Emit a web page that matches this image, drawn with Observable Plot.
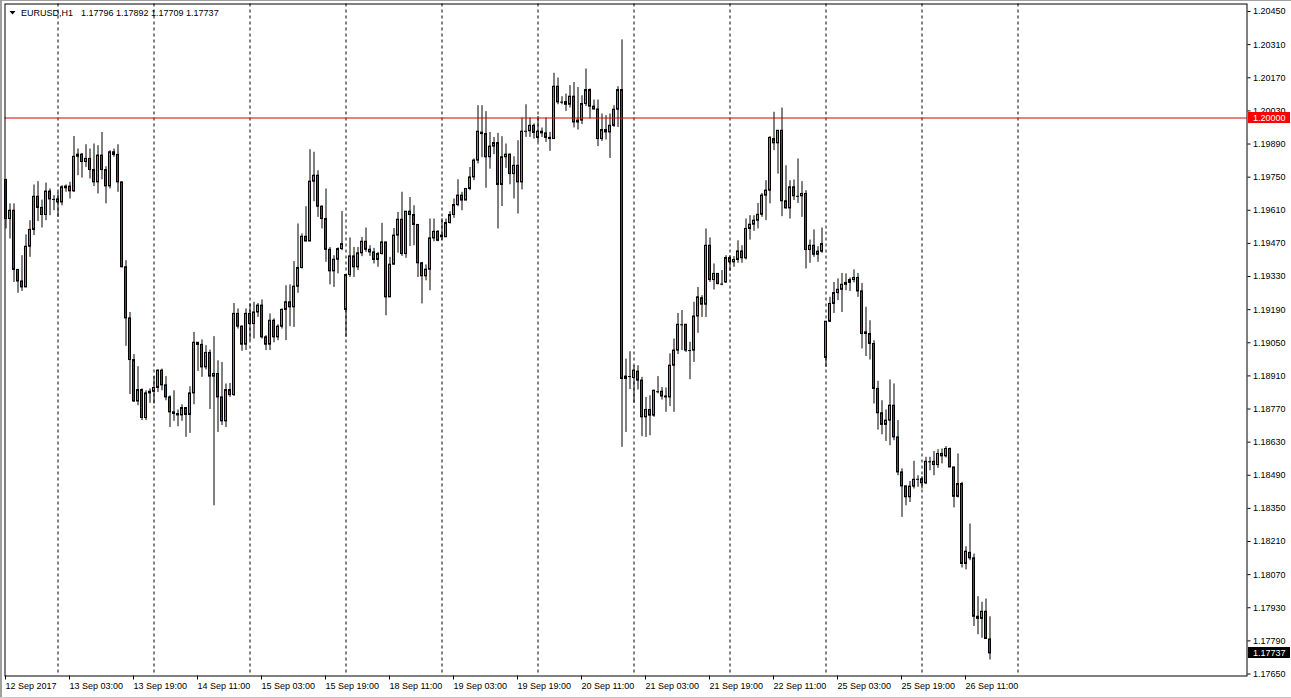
<!DOCTYPE html>
<html>
<head>
<meta charset="utf-8">
<script src="https://cdn.jsdelivr.net/npm/d3@7"></script>
<script src="https://cdn.jsdelivr.net/npm/@observablehq/plot@0.6"></script>
<style>
  html, body { margin: 0; padding: 0; background: #fff; }
  #chart { position: absolute; left: 0; top: 0; width: 1291px; height: 698px; }
</style>
</head>
<body>
<div id="chart"></div>
<script>
// ---- Data (EURUSD H1, 12 Sep 2017 11:00 -> 26 Sep 2017 17:00), one value per hourly bar ----
const symbol = "EURUSD,H1";

const open = [
1.19738,1.19573,1.19608,1.19358,1.19309,1.19284,1.19456,1.19527,1.19667,1.19620,
1.19590,1.19689,1.19656,1.19656,1.19643,1.19703,1.19710,1.19690,1.19836,1.19845,
1.19814,1.19827,1.19780,1.19728,1.19841,1.19780,1.19711,1.19855,1.19844,1.19728,
1.19369,1.19153,1.18977,1.18802,1.18850,1.18732,1.18836,1.18843,1.18859,1.18932,
1.18870,1.18819,1.18756,1.18749,1.18743,1.18774,1.18745,1.18836,1.19050,1.19041,
1.18946,1.19007,1.18907,1.18918,1.18819,1.18718,1.18850,1.18829,1.19172,1.19118,
1.19042,1.19172,1.19129,1.19178,1.19207,1.19073,1.19042,1.19143,1.19073,1.19118,
1.19189,1.19221,1.19200,1.19287,1.19366,1.19498,1.19478,1.19731,1.19756,1.19625,
1.19573,1.19443,1.19352,1.19401,1.19446,1.19189,1.19336,1.19415,1.19369,1.19428,
1.19477,1.19443,1.19432,1.19400,1.19425,1.19474,1.19242,1.19380,1.19503,1.19570,
1.19425,1.19604,1.19590,1.19548,1.19386,1.19331,1.19359,1.19491,1.19519,1.19503,
1.19496,1.19556,1.19590,1.19632,1.19672,1.19651,1.19700,1.19749,1.19820,1.19938,
1.19932,1.19834,1.19879,1.19894,1.19717,1.19834,1.19845,1.19763,1.19798,1.19728,
1.19944,1.19944,1.19967,1.19916,1.19942,1.19935,1.19916,1.19911,1.20132,1.20067,
1.20067,1.20056,1.20090,1.19981,1.19989,1.20059,1.20118,1.20048,1.20036,1.19911,
1.19949,1.19939,1.19967,1.20035,1.20118,1.18897,1.18907,1.18901,1.18928,1.18890,
1.18735,1.18766,1.18742,1.18843,1.18843,1.18823,1.18819,1.18953,1.19017,1.19126,
1.19126,1.19017,1.19017,1.19161,1.19238,1.19211,1.19460,1.19315,1.19341,1.19298,
1.19305,1.19408,1.19390,1.19400,1.19436,1.19407,1.19531,1.19549,1.19566,1.19591,
1.19672,1.19693,1.19911,1.19893,1.19946,1.19648,1.19618,1.19707,1.19669,1.19669,
1.19679,1.19442,1.19460,1.19422,1.19435,1.18986,1.19139,1.19214,1.19260,1.19274,
1.19295,1.19303,1.19315,1.19324,1.19267,1.19094,1.19087,1.19045,1.18855,1.18752,
1.18703,1.18721,1.18784,1.18650,1.18502,1.18443,1.18397,1.18442,1.18473,1.18473,
1.18456,1.18547,1.18547,1.18533,1.18580,1.18570,1.18601,1.18523,1.18399,1.18453,
1.18115,1.18162,1.18139,1.17892,1.17883,1.17913,1.17796
];

const high = [
1.19741,1.19637,1.19637,1.19358,1.19418,1.19506,1.19566,1.19717,1.19731,1.19653,
1.19725,1.19700,1.19672,1.19686,1.19714,1.19717,1.19728,1.19922,1.19869,1.19850,
1.19887,1.19869,1.19890,1.19883,1.19939,1.19794,1.19862,1.19869,1.19887,1.19728,
1.19397,1.19178,1.19000,1.18949,1.18855,1.18847,1.18855,1.18907,1.18936,1.18939,
1.18907,1.18826,1.18847,1.18766,1.18788,1.18774,1.18864,1.19094,1.19050,1.19062,
1.19038,1.19019,1.19076,1.18974,1.18967,1.18876,1.18878,1.19216,1.19193,1.19122,
1.19193,1.19214,1.19221,1.19216,1.19231,1.19080,1.19172,1.19151,1.19126,1.19193,
1.19291,1.19295,1.19393,1.19552,1.19510,1.19625,1.19866,1.19855,1.19777,1.19629,
1.19700,1.19453,1.19418,1.19451,1.19605,1.19336,1.19493,1.19453,1.19453,1.19495,
1.19535,1.19460,1.19449,1.19432,1.19555,1.19474,1.19411,1.19533,1.19601,1.19686,
1.19604,1.19664,1.19629,1.19548,1.19390,1.19379,1.19573,1.19573,1.19524,1.19574,
1.19573,1.19604,1.19658,1.19739,1.19686,1.19700,1.19791,1.19827,1.20052,1.20052,
1.20027,1.19939,1.19918,1.19935,1.19921,1.19890,1.19848,1.19836,1.19904,1.20000,
1.20056,1.20000,1.19975,1.20006,1.19958,1.20000,1.19939,1.20189,1.20169,1.20090,
1.20101,1.20137,1.20150,1.20129,1.20094,1.20207,1.20123,1.20076,1.20076,1.20017,
1.20010,1.20017,1.20052,1.20132,1.20330,1.18981,1.19012,1.18953,1.18953,1.18904,
1.18819,1.18826,1.18850,1.18907,1.18861,1.18859,1.19003,1.19066,1.19174,1.19186,
1.19126,1.19052,1.19221,1.19284,1.19249,1.19531,1.19493,1.19383,1.19343,1.19355,
1.19418,1.19418,1.19414,1.19481,1.19460,1.19573,1.19587,1.19587,1.19639,1.19681,
1.19735,1.19921,1.20024,1.19946,1.20042,1.19798,1.19735,1.19738,1.19827,1.19731,
1.19693,1.19484,1.19527,1.19456,1.19535,1.19139,1.19242,1.19305,1.19320,1.19343,
1.19341,1.19324,1.19358,1.19343,1.19301,1.19200,1.19143,1.19059,1.18887,1.18805,
1.18766,1.18893,1.18876,1.18721,1.18517,1.18443,1.18464,1.18549,1.18488,1.18484,
1.18566,1.18566,1.18590,1.18598,1.18601,1.18611,1.18605,1.18523,1.18580,1.18460,
1.18188,1.18284,1.18157,1.17977,1.17953,1.17967,1.17892
];

const low = [
1.19531,1.19489,1.19305,1.19259,1.19267,1.19284,1.19411,1.19503,1.19562,1.19535,
1.19566,1.19587,1.19608,1.19580,1.19629,1.19686,1.19658,1.19686,1.19756,1.19746,
1.19791,1.19742,1.19710,1.19679,1.19739,1.19637,1.19700,1.19834,1.19686,1.19367,
1.19035,1.18831,1.18798,1.18784,1.18721,1.18721,1.18794,1.18791,1.18840,1.18847,
1.18805,1.18692,1.18718,1.18695,1.18718,1.18650,1.18667,1.18788,1.18929,1.18904,
1.18935,1.18768,1.18361,1.18671,1.18700,1.18692,1.18819,1.18823,1.19108,1.19014,
1.19017,1.19059,1.19066,1.19157,1.19066,1.19017,1.19017,1.19050,1.19059,1.19108,
1.19059,1.19118,1.19115,1.19259,1.19362,1.19477,1.19478,1.19646,1.19580,1.19531,
1.19390,1.19295,1.19284,1.19341,1.19439,1.19073,1.19326,1.19326,1.19355,1.19414,
1.19432,1.19415,1.19383,1.19369,1.19421,1.19164,1.19242,1.19380,1.19429,1.19415,
1.19407,1.19457,1.19460,1.19326,1.19214,1.19312,1.19270,1.19477,1.19477,1.19481,
1.19495,1.19552,1.19576,1.19625,1.19608,1.19651,1.19693,1.19735,1.19806,1.19832,
1.19703,1.19784,1.19845,1.19531,1.19626,1.19787,1.19718,1.19658,1.19594,1.19696,
1.19918,1.19918,1.19911,1.19897,1.19918,1.19897,1.19859,1.19911,1.20056,1.20056,
1.20028,1.20042,1.19958,1.19949,1.19972,1.20048,1.19996,1.20034,1.19879,1.19901,
1.19907,1.19829,1.19960,1.19960,1.18608,1.18671,1.18852,1.18794,1.18850,1.18653,
1.18650,1.18657,1.18735,1.18834,1.18808,1.18756,1.18780,1.18756,1.19000,1.19017,
1.19009,1.18894,1.18967,1.19090,1.19157,1.19157,1.19305,1.19273,1.19295,1.19291,
1.19301,1.19352,1.19369,1.19386,1.19386,1.19400,1.19484,1.19521,1.19531,1.19580,
1.19566,1.19637,1.19862,1.19763,1.19583,1.19615,1.19573,1.19651,1.19639,1.19580,
1.19362,1.19386,1.19411,1.19390,1.19428,1.18946,1.19136,1.19174,1.19228,1.19178,
1.19270,1.19267,1.19303,1.19242,1.19024,1.18992,1.18977,1.18791,1.18681,1.18661,
1.18633,1.18615,1.18636,1.18488,1.18312,1.18361,1.18375,1.18432,1.18439,1.18432,
1.18450,1.18509,1.18488,1.18519,1.18538,1.18563,1.18523,1.18352,1.18394,1.18098,
1.18090,1.18129,1.17851,1.17816,1.17801,1.17798,1.17709
];

const close = [
1.19573,1.19608,1.19358,1.19309,1.19284,1.19456,1.19527,1.19667,1.19620,1.19590,
1.19689,1.19656,1.19656,1.19643,1.19707,1.19710,1.19690,1.19836,1.19845,1.19814,
1.19827,1.19780,1.19728,1.19841,1.19780,1.19711,1.19855,1.19844,1.19728,1.19369,
1.19153,1.18977,1.18802,1.18850,1.18732,1.18836,1.18843,1.18859,1.18932,1.18870,
1.18819,1.18756,1.18749,1.18743,1.18774,1.18745,1.18836,1.19050,1.19041,1.18946,
1.19007,1.18907,1.18918,1.18819,1.18718,1.18850,1.18829,1.19172,1.19118,1.19042,
1.19172,1.19129,1.19178,1.19207,1.19073,1.19042,1.19143,1.19073,1.19118,1.19189,
1.19221,1.19200,1.19287,1.19366,1.19498,1.19478,1.19731,1.19756,1.19625,1.19573,
1.19443,1.19352,1.19401,1.19446,1.19467,1.19336,1.19415,1.19369,1.19428,1.19477,
1.19443,1.19432,1.19400,1.19425,1.19474,1.19242,1.19380,1.19503,1.19570,1.19425,
1.19604,1.19590,1.19548,1.19386,1.19331,1.19359,1.19491,1.19519,1.19481,1.19496,
1.19556,1.19590,1.19632,1.19672,1.19651,1.19700,1.19749,1.19820,1.19942,1.19932,
1.19834,1.19879,1.19894,1.19717,1.19834,1.19845,1.19763,1.19798,1.19728,1.19942,
1.19944,1.19967,1.19937,1.19942,1.19935,1.19916,1.19911,1.20132,1.20066,1.20067,
1.20056,1.20090,1.19981,1.19989,1.20059,1.20118,1.20048,1.20036,1.19911,1.19949,
1.19939,1.19967,1.20035,1.20118,1.18897,1.18907,1.18907,1.18932,1.18890,1.18735,
1.18766,1.18742,1.18847,1.18843,1.18823,1.18819,1.18953,1.19017,1.19126,1.19126,
1.19017,1.19017,1.19161,1.19242,1.19211,1.19460,1.19315,1.19341,1.19298,1.19298,
1.19408,1.19390,1.19400,1.19436,1.19407,1.19531,1.19549,1.19566,1.19591,1.19672,
1.19693,1.19916,1.19893,1.19946,1.19648,1.19618,1.19707,1.19669,1.19669,1.19679,
1.19442,1.19460,1.19422,1.19435,1.19467,1.19139,1.19214,1.19260,1.19274,1.19295,
1.19303,1.19315,1.19324,1.19267,1.19087,1.19087,1.19045,1.18855,1.18752,1.18703,
1.18721,1.18784,1.18650,1.18502,1.18443,1.18397,1.18442,1.18471,1.18473,1.18456,
1.18547,1.18547,1.18533,1.18580,1.18570,1.18601,1.18523,1.18399,1.18453,1.18115,
1.18167,1.18139,1.17892,1.17883,1.17913,1.17798,1.17737
];

// time-axis labels (bar index of each label, text)
const xTickBars = [0, 16, 32, 48, 64, 80, 96, 112, 128, 144, 160, 176, 192, 208, 224, 240];
const xTickLabels = ["12 Sep 2017", "13 Sep 03:00", "13 Sep 19:00", "14 Sep 11:00", "15 Sep 03:00",
  "15 Sep 19:00", "18 Sep 11:00", "19 Sep 03:00", "19 Sep 19:00", "20 Sep 11:00", "21 Sep 03:00",
  "21 Sep 19:00", "22 Sep 11:00", "25 Sep 03:00", "25 Sep 19:00", "26 Sep 11:00"];
// day separators (bar index of 00:00 of each day)
const daySeparators = [13, 37, 61, 85, 109, 133, 157, 181, 205, 229, 253];
// price-axis ticks
const yTicks = [1.17650, 1.17790, 1.17930, 1.18070, 1.18210, 1.18350, 1.18490, 1.18630, 1.18770,
  1.18910, 1.19050, 1.19190, 1.19330, 1.19470, 1.19610, 1.19750, 1.19890, 1.20030, 1.20170,
  1.20310, 1.20450];
const levelLine = 1.20000;

// ---- build chart ----
const bars = open.map((o, i) => ({i, open: o, high: high[i], low: low[i], close: close[i]}));
const up = bars.filter(d => d.close > d.open);
const down = bars.filter(d => d.close < d.open);
const doji = bars.filter(d => d.close === d.open);
const last = bars[bars.length - 1];
const fmt = d3.format(".5f");

const W = 1291, H = 698;
const chart = Plot.plot({
  width: W,
  height: H,
  marginLeft: 4.5,
  marginRight: 44.5,
  marginTop: 3.5,
  marginBottom: 22.5,
  style: {fontFamily: "'Liberation Sans', Arial, sans-serif", fontSize: "9px", background: "white", color: "black", overflow: "visible"},
  x: {domain: [-0.25, 310.25]},
  y: {domain: [1.1764159, 1.2048183]},
  marks: [
    Plot.ruleX(daySeparators, {stroke: "black", strokeWidth: 1, strokeDasharray: "3,3"}),
    Plot.ruleX(bars, {x: "i", y1: "low", y2: "high", stroke: "black", strokeWidth: 1}),
    Plot.rect(up, {x1: d => d.i - 0.25, x2: d => d.i + 0.25, y1: "open", y2: "close", fill: "#1ec81e", stroke: "black", strokeWidth: 1}),
    Plot.rect(down, {x1: d => d.i - 0.25, x2: d => d.i + 0.25, y1: "open", y2: "close", fill: "#e01010", stroke: "black", strokeWidth: 1}),
    Plot.ruleY(doji, {y: "open", x1: d => d.i - 0.375, x2: d => d.i + 0.375, stroke: "black", strokeWidth: 1}),
    Plot.ruleY([levelLine], {stroke: "#e00000", strokeWidth: 1}),
    Plot.frame({stroke: "black", strokeWidth: 1}),
    Plot.axisY(yTicks, {anchor: "right", tickSize: 3, tickPadding: 3, tickFormat: fmt, label: null, fontSize: 9}),
    Plot.axisX(xTickBars, {anchor: "bottom", tickSize: 4, tickPadding: 3, textAnchor: "start", dx: -0.5,
      tickFormat: d => xTickLabels[xTickBars.indexOf(d)], label: null, fontSize: 9})
  ]
});
document.getElementById("chart").appendChild(chart);

// ---- decorations drawn with the chart's own scales ----
const svg = d3.select(chart);
const ys = chart.scale("y");
const FONT = "'Liberation Sans', Arial, sans-serif";

function priceTag(price, fill) {
  const yc = Math.round(ys.apply(price));
  svg.append("rect").attr("x", 1248).attr("y", yc - 6).attr("width", 42).attr("height", 11).attr("fill", fill);
  svg.append("text").attr("x", 1253).attr("y", yc).attr("dy", "0.35em").attr("text-anchor", "start")
    .attr("fill", "white").attr("font-family", FONT).attr("font-size", 9).text(fmt(price));
}
priceTag(levelLine, "#ff0000");
priceTag(last.close, "#000000");

// header: symbol and current OHLC
svg.append("path").attr("d", "M9.5,11 L15.5,11 L12.5,14.5 Z").attr("fill", "black");
svg.append("text").attr("x", 21).attr("y", 16).attr("text-anchor", "start").attr("font-family", FONT).attr("font-size", 9)
  .attr("fill", "black").text(symbol);
svg.append("text").attr("x", 81).attr("y", 16).attr("text-anchor", "start").attr("font-family", FONT).attr("font-size", 9)
  .attr("fill", "black").text([last.open, last.high, last.low, last.close].map(fmt).join(" "));

// window border
svg.append("rect").attr("x", 0).attr("y", 0).attr("width", 2).attr("height", H).attr("fill", "#a0a0a0");
svg.append("line").attr("x1", 0).attr("x2", W).attr("y1", 0.5).attr("y2", 0.5).attr("stroke", "#a0a0a0");
svg.append("line").attr("x1", 0).attr("x2", W).attr("y1", H - 0.5).attr("y2", H - 0.5).attr("stroke", "#c8c8c8");
</script>
</body>
</html>
